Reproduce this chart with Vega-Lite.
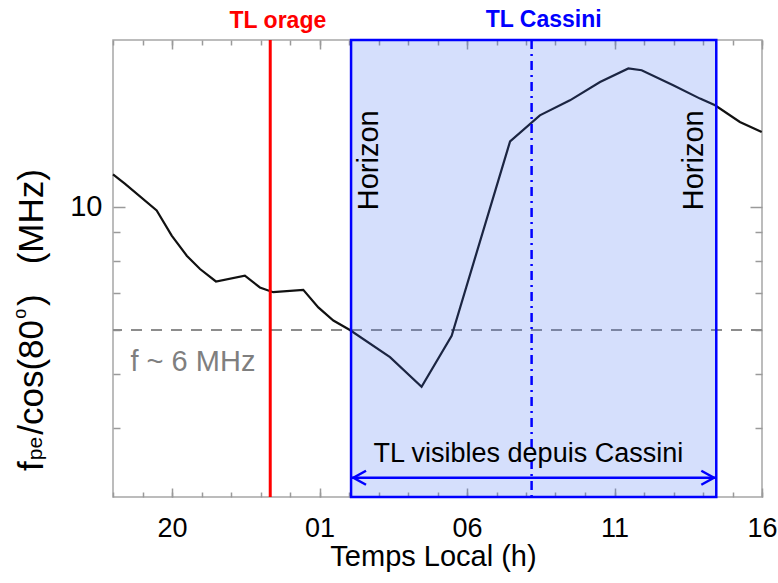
{
  "$schema": "https://vega.github.io/schema/vega-lite/v6.json",
  "width": 649,
  "height": 457,
  "autosize": "none",
  "padding": {"left": 113, "top": 40, "right": 16, "bottom": 86},
  "background": "white",
  "config": {
    "view": {"stroke": "#a6a6a6", "strokeWidth": 1.5},
    "font": "Liberation Sans",
    "axis": {"grid": false, "domain": false, "tickColor": "#9a9a9a", "tickWidth": 1.5}
  },
  "datasets": {
    "curve": [
      {"h": 18.0, "f": 11.45}, {"h": 18.41, "f": 11.01}, {"h": 19.48, "f": 9.86}, {"h": 19.99, "f": 8.88},
      {"h": 20.5, "f": 8.17}, {"h": 20.95, "f": 7.73}, {"h": 21.49, "f": 7.34}, {"h": 22.47, "f": 7.52},
      {"h": 22.98, "f": 7.16}, {"h": 23.43, "f": 7.02}, {"h": 24.45, "f": 7.09}, {"h": 24.96, "f": 6.59},
      {"h": 25.47, "f": 6.24}, {"h": 26.03, "f": 6.0}, {"h": 27.39, "f": 5.36}, {"h": 28.46, "f": 4.74},
      {"h": 29.48, "f": 5.86}, {"h": 31.46, "f": 13.13}, {"h": 32.47, "f": 14.63}, {"h": 33.49, "f": 15.57},
      {"h": 34.51, "f": 16.8}, {"h": 35.47, "f": 17.77}, {"h": 35.92, "f": 17.64}, {"h": 36.99, "f": 16.58},
      {"h": 37.9, "f": 15.68}, {"h": 38.41, "f": 15.25}, {"h": 39.25, "f": 14.23}, {"h": 39.99, "f": 13.65}
    ],
    "window": [{"start": 26.07, "end": 38.45, "low": 3, "high": 20, "arrow": 3.25}],
    "heads": [{"h": 26.15, "f": 3.25, "dir": "left"}, {"h": 38.37, "f": 3.25, "dir": "right"}],
    "horizon": [{"h": 26.98, "f": 12.14, "t": "Horizon"}, {"h": 38.01, "f": 12.14, "t": "Horizon"}],
    "ytitle_big": [
      {"h": 15.627, "f": 3.342, "t": "f"},
      {"h": 15.627, "f": 3.884, "t": "/cos(80"},
      {"h": 15.627, "f": 6.627, "t": ")"},
      {"h": 15.627, "f": 7.882, "t": "(MHz)"}
    ],
    "ytitle_sub": [{"h": 15.593, "f": 3.494, "t": "pe"}],
    "ytitle_sup": [{"h": 15.051, "f": 6.286, "t": "o"}]
  },
  "resolve": {"axis": {"x": "independent", "y": "independent"}},
  "layer": [
    {
      "data": {"name": "window"},
      "mark": {"type": "rect", "fill": "#3f6cf0", "fillOpacity": 0.0, "stroke": null},
      "encoding": {
        "x": {"field": "start", "type": "quantitative", "scale": {"domain": [18, 40], "nice": false, "zero": false},
              "axis": {"orient": "top", "values": [18,19,20,21,22,23,24,25,26,27,28,29,30,31,32,33,34,35,36,37,38,39,40], "tickSize": -5, "labels": false, "title": null}},
        "x2": {"field": "end"},
        "y": {"field": "low", "type": "quantitative", "scale": {"type": "log", "domain": [3, 20], "nice": false},
              "axis": {"orient": "right", "values": [4,5,6,7,8,9], "tickSize": -7, "labels": false, "title": null}},
        "y2": {"field": "high"}
      }
    },
    {
      "data": {"values": [{"f": 6}]},
      "mark": {"type": "rule", "stroke": "#8c8c8c", "strokeWidth": 2, "strokeDash": [11, 9]},
      "encoding": {
        "y": {"field": "f", "type": "quantitative", "scale": {"type": "log", "domain": [3, 20], "nice": false},
              "axis": {"orient": "left", "values": [4,5,6,7,8,9], "tickSize": -7, "labels": false, "title": null}}
      }
    },
    {
      "data": {"name": "curve"},
      "mark": {"type": "line", "stroke": "#111111", "strokeWidth": 2.2},
      "encoding": {
        "x": {"field": "h", "type": "quantitative", "scale": {"domain": [18, 40], "nice": false, "zero": false},
              "axis": {"orient": "bottom", "values": [20, 25, 30, 35, 40], "ticks": false, "labelFlush": false, "labelOverlap": false,
                       "labelExpr": "datum.value == 20 ? '20' : datum.value == 25 ? '01' : datum.value == 30 ? '06' : datum.value == 35 ? '11' : '16'",
                       "labelFontSize": 27, "labelColor": "#000000", "labelPadding": 18,
                       "title": "Temps Local (h)", "titleFontSize": 29, "titleFontWeight": "normal", "titleColor": "#000000",
                       "titleBaseline": "alphabetic", "titleY": 68.5, "titleX": 320}},
        "y": {"field": "f", "type": "quantitative", "scale": {"type": "log", "domain": [3, 20], "nice": false},
              "axis": {"orient": "left", "values": [10], "ticks": false, "labelFlush": false, "labelExpr": "'10'",
                       "labelFontSize": 29, "labelColor": "#000000", "labelPadding": 11, "labelBaseline": "middle", "title": null}}
      }
    },
    {
      "data": {"name": "window"},
      "mark": {"type": "rect", "fill": "#3f6cf0", "fillOpacity": 0.22, "stroke": "#0000ff", "strokeWidth": 2.5, "strokeOpacity": 1},
      "encoding": {
        "x": {"field": "start", "type": "quantitative", "scale": {"domain": [18, 40], "nice": false, "zero": false},
              "axis": {"orient": "bottom", "values": [18,19,20,21,22,23,24,25,26,27,28,29,30,31,32,33,34,35,36,37,38,39,40], "tickSize": -5, "labels": false, "title": null}},
        "x2": {"field": "end"},
        "y": {"field": "low", "type": "quantitative", "scale": {"type": "log", "domain": [3, 20], "nice": false},
              "axis": {"orient": "left", "values": [10], "tickSize": -12, "labels": false, "title": null}},
        "y2": {"field": "high"}
      }
    },
    {
      "data": {"values": [{"h": 23.33}]},
      "mark": {"type": "rule", "stroke": "#ff0000", "strokeWidth": 3},
      "encoding": {
        "x": {"field": "h", "type": "quantitative", "scale": {"domain": [18, 40], "nice": false, "zero": false},
              "axis": {"orient": "bottom", "values": [20, 25, 30, 35, 40], "tickSize": -9, "labels": false, "title": null}}
      }
    },
    {
      "data": {"values": [{"h": 32.19}]},
      "mark": {"type": "rule", "stroke": "#0000ff", "strokeWidth": 2.5, "strokeDash": [9, 5, 2, 5]},
      "encoding": {
        "x": {"field": "h", "type": "quantitative", "scale": {"domain": [18, 40], "nice": false, "zero": false},
              "axis": {"orient": "top", "values": [20, 25, 30, 35, 40], "tickSize": -9, "labels": false, "title": null}}
      }
    },
    {
      "data": {"name": "window"},
      "mark": {"type": "rule", "stroke": "#0000ff", "strokeWidth": 2.5},
      "encoding": {
        "x": {"field": "start", "type": "quantitative", "scale": {"domain": [18, 40], "nice": false, "zero": false}, "axis": null},
        "x2": {"field": "end"},
        "y": {"field": "arrow", "type": "quantitative", "scale": {"type": "log", "domain": [3, 20], "nice": false},
              "axis": {"orient": "right", "values": [10], "tickSize": -12, "labels": false, "title": null}}
      }
    },
    {
      "data": {"name": "heads"},
      "transform": [{"filter": "datum.dir == 'left'"}],
      "mark": {"type": "point", "shape": "M 1.8 -1 L 0 0 L 1.8 1", "size": 196, "filled": false, "stroke": "#0000ff", "strokeWidth": 2.5, "opacity": 1},
      "encoding": {
        "x": {"field": "h", "type": "quantitative", "scale": {"domain": [18, 40], "nice": false, "zero": false}, "axis": null},
        "y": {"field": "f", "type": "quantitative", "scale": {"type": "log", "domain": [3, 20], "nice": false}, "axis": null}
      }
    },
    {
      "data": {"name": "heads"},
      "transform": [{"filter": "datum.dir == 'right'"}],
      "mark": {"type": "point", "shape": "M -1.8 -1 L 0 0 L -1.8 1", "size": 196, "filled": false, "stroke": "#0000ff", "strokeWidth": 2.5, "opacity": 1},
      "encoding": {
        "x": {"field": "h", "type": "quantitative", "scale": {"domain": [18, 40], "nice": false, "zero": false}, "axis": null},
        "y": {"field": "f", "type": "quantitative", "scale": {"type": "log", "domain": [3, 20], "nice": false}, "axis": null}
      }
    },
    {
      "data": {"name": "horizon"},
      "mark": {"type": "text", "angle": 270, "fontSize": 29, "color": "#000000", "align": "center", "baseline": "alphabetic"},
      "encoding": {
        "x": {"field": "h", "type": "quantitative", "scale": {"domain": [18, 40], "nice": false, "zero": false}, "axis": null},
        "y": {"field": "f", "type": "quantitative", "scale": {"type": "log", "domain": [3, 20], "nice": false}, "axis": null},
        "text": {"field": "t"}
      }
    },
    {
      "data": {"values": [{"h": 32.08, "f": 3.474, "t": "TL visibles depuis Cassini"}]},
      "mark": {"type": "text", "fontSize": 27, "color": "#000000", "align": "center", "baseline": "alphabetic"},
      "encoding": {
        "x": {"field": "h", "type": "quantitative", "scale": {"domain": [18, 40], "nice": false, "zero": false}, "axis": null},
        "y": {"field": "f", "type": "quantitative", "scale": {"type": "log", "domain": [3, 20], "nice": false}, "axis": null},
        "text": {"field": "t"}
      }
    },
    {
      "data": {"values": [{"h": 20.71, "f": 5.07, "t": "f ~ 6 MHz"}]},
      "mark": {"type": "text", "fontSize": 29, "color": "#7f7f7f", "align": "center", "baseline": "alphabetic"},
      "encoding": {
        "x": {"field": "h", "type": "quantitative", "scale": {"domain": [18, 40], "nice": false, "zero": false}, "axis": null},
        "y": {"field": "f", "type": "quantitative", "scale": {"type": "log", "domain": [3, 20], "nice": false}, "axis": null},
        "text": {"field": "t"}
      }
    },
    {
      "data": {"values": [{"h": 23.59, "f": 21.0, "t": "TL orage"}]},
      "mark": {"type": "text", "fontSize": 23, "fontWeight": "bold", "color": "#ff0000", "align": "center", "baseline": "alphabetic"},
      "encoding": {
        "x": {"field": "h", "type": "quantitative", "scale": {"domain": [18, 40], "nice": false, "zero": false}, "axis": null},
        "y": {"field": "f", "type": "quantitative", "scale": {"type": "log", "domain": [3, 20], "nice": false}, "axis": null},
        "text": {"field": "t"}
      }
    },
    {
      "data": {"values": [{"h": 32.6, "f": 21.13, "t": "TL Cassini"}]},
      "mark": {"type": "text", "fontSize": 23, "fontWeight": "bold", "color": "#0000ff", "align": "center", "baseline": "alphabetic"},
      "encoding": {
        "x": {"field": "h", "type": "quantitative", "scale": {"domain": [18, 40], "nice": false, "zero": false}, "axis": null},
        "y": {"field": "f", "type": "quantitative", "scale": {"type": "log", "domain": [3, 20], "nice": false}, "axis": null},
        "text": {"field": "t"}
      }
    },
    {
      "data": {"name": "ytitle_big"},
      "mark": {"type": "text", "angle": 270, "fontSize": 35, "color": "#000000", "align": "left", "baseline": "alphabetic"},
      "encoding": {
        "x": {"field": "h", "type": "quantitative", "scale": {"domain": [18, 40], "nice": false, "zero": false}, "axis": null},
        "y": {"field": "f", "type": "quantitative", "scale": {"type": "log", "domain": [3, 20], "nice": false}, "axis": null},
        "text": {"field": "t"}
      }
    },
    {
      "data": {"name": "ytitle_sub"},
      "mark": {"type": "text", "angle": 270, "fontSize": 21, "color": "#000000", "align": "left", "baseline": "alphabetic"},
      "encoding": {
        "x": {"field": "h", "type": "quantitative", "scale": {"domain": [18, 40], "nice": false, "zero": false}, "axis": null},
        "y": {"field": "f", "type": "quantitative", "scale": {"type": "log", "domain": [3, 20], "nice": false}, "axis": null},
        "text": {"field": "t"}
      }
    },
    {
      "data": {"name": "ytitle_sup"},
      "mark": {"type": "text", "angle": 270, "fontSize": 18, "color": "#000000", "align": "left", "baseline": "alphabetic"},
      "encoding": {
        "x": {"field": "h", "type": "quantitative", "scale": {"domain": [18, 40], "nice": false, "zero": false}, "axis": null},
        "y": {"field": "f", "type": "quantitative", "scale": {"type": "log", "domain": [3, 20], "nice": false}, "axis": null},
        "text": {"field": "t"}
      }
    }
  ]
}
